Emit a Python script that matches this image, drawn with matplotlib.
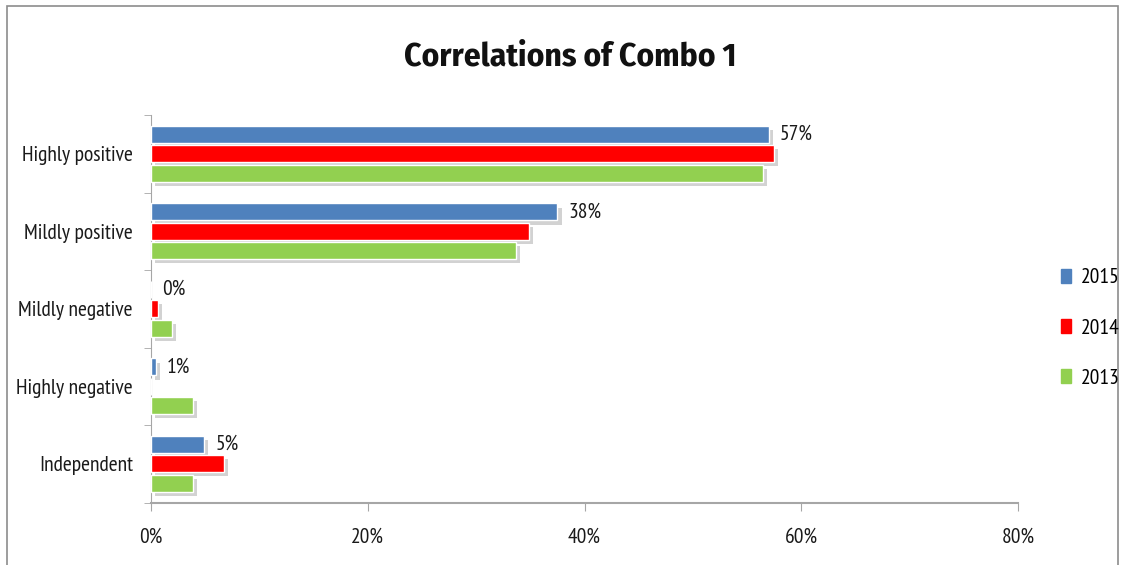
import matplotlib
matplotlib.use("Agg")
import matplotlib.pyplot as plt
import matplotlib.patheffects as pe
from matplotlib.patches import Rectangle
from matplotlib.ticker import FuncFormatter
import numpy as np

categories = ["Highly positive", "Mildly positive", "Mildly negative", "Highly negative", "Independent"]
series_names = ["2015", "2014", "2013"]
v2015 = [57.0, 37.5, 0.0, 0.45, 4.9]
v2014 = [57.5, 34.9, 0.65, 0.0, 6.7]
v2013 = [56.5, 33.7, 1.9, 3.9, 3.9]
labels2015 = ["57%", "38%", "0%", "1%", "5%"]
xticks = [0, 20, 40, 60, 80]
colors = ["#4F81BD", "#FF0000", "#92D050"]

plt.rcParams['font.family'] = ['PT Sans Narrow', 'DejaVu Sans']
FS = 15.5
TXT = "#1a1a1a"

fig = plt.figure(figsize=(11.24, 5.65), dpi=100)
fig.patch.set_facecolor("white")
fig.patches.append(Rectangle((7/1124, -0.02), 1111/1124, 1 - 6/565 + 0.02, transform=fig.transFigure,
                             fill=False, edgecolor="#8c8c8c", linewidth=1.2))

ax = fig.add_axes([151/1124, 62.5/565, 867/1124, 387.5/565])
y = np.arange(len(categories))
h = 0.22
offs = [-0.25, 0.0, 0.25]
shadow = [pe.SimplePatchShadow(offset=(3, -3), shadow_rgbFace="#7f7f7f", alpha=0.35), pe.Normal()]
for vals, off, col, name in zip([v2015, v2014, v2013], offs, colors, series_names):
    b = ax.barh(y + off, vals, height=h, color=col, edgecolor="white", linewidth=1.0, label=name, zorder=3)
    for r in b:
        r.set_path_effects(shadow)

for yi, v, lab in zip(y, v2015, labels2015):
    ax.annotate(lab, (v, yi + offs[0]), xytext=(8, 0), textcoords="offset points",
                va="center", ha="left", fontsize=FS, color=TXT)

ax.set_xlim(0, 80)
ax.set_ylim(4.5, -0.5)
ax.set_xticks(xticks)
ax.xaxis.set_major_formatter(FuncFormatter(lambda v, p: f"{int(v)}%"))
ax.set_yticks(y)
ax.set_yticklabels(categories)
ax.set_yticks(np.arange(-0.5, 5.0, 1.0), minor=True)
ax.tick_params(axis="y", which="major", length=0, pad=13, labelsize=FS, labelcolor=TXT)
ax.tick_params(axis="y", which="minor", length=5, color="#a6a6a6", direction="out")
ax.tick_params(axis="x", which="major", length=6, color="#a6a6a6", pad=12, labelsize=FS, labelcolor=TXT)
for s in ["top", "right"]:
    ax.spines[s].set_visible(False)
ax.spines["left"].set_color("#a6a6a6")
ax.spines["bottom"].set_color("#a6a6a6")
ax.spines["bottom"].set_linewidth(1.5)

fig.text(570/1124, 1 - 57/565, "Correlations of Combo 1", ha="center", va="center",
         fontsize=24, fontweight="bold", color="#111111", family=["Fira Sans Condensed", "DejaVu Sans"])

handles = [Rectangle((0, 0), 1, 1, color=c) for c in colors]
leg = fig.legend(handles, series_names, loc="center left", bbox_to_anchor=(1061/1124, 1 - 328/565),
                 frameon=False, fontsize=FS, handlelength=0.45, handleheight=0.6, handletextpad=0.45,
                 labelspacing=1.45, borderpad=0, borderaxespad=0)

fig.savefig("out.png", dpi=100, facecolor="white")
